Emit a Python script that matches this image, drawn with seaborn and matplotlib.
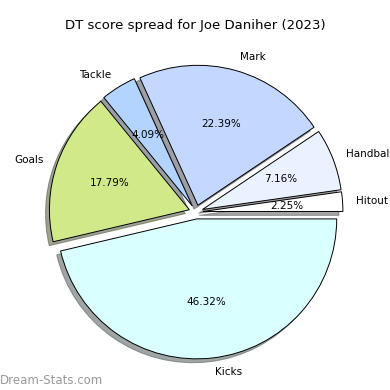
import matplotlib
matplotlib.use("Agg")
import matplotlib.pyplot as plt
import seaborn as sns

categories = ["Hitout", "Handball", "Mark", "Tackle", "Goals", "Kicks"]
values = [2.25, 7.16, 22.39, 4.09, 17.79, 46.32]
colors = ["#ffffff", "#eaf1ff", "#c4d8ff", "#b3d4ff", "#d0ea8a", "#d9ffff"]
title = "DT score spread for Joe Daniher (2023)"
watermark = "Dream-Stats.com"

sns.set_style("white")
plt.rcParams['font.family'] = ['DejaVu Sans']

fig = plt.figure(figsize=(3.9, 3.9), dpi=100)
ax = fig.add_axes([0.054, 0.008, 0.897, 0.897])
wedges, texts, autotexts = ax.pie(
    values, labels=categories, colors=colors, autopct="%1.2f%%",
    explode=[0.05] * len(values), shadow=True, startangle=0,
    wedgeprops=dict(edgecolor="black", linewidth=0.7),
    textprops=dict(fontsize=7.5, color="black"),
)
ax.set_aspect("equal")
fig.text(0.5, 0.935, title, ha="center", va="center", fontsize=9.5, color="black")
fig.text(0.0, 0.024, watermark, ha="left", va="center", fontsize=8.5, color="#999999")
fig.savefig("out.png", dpi=100)
